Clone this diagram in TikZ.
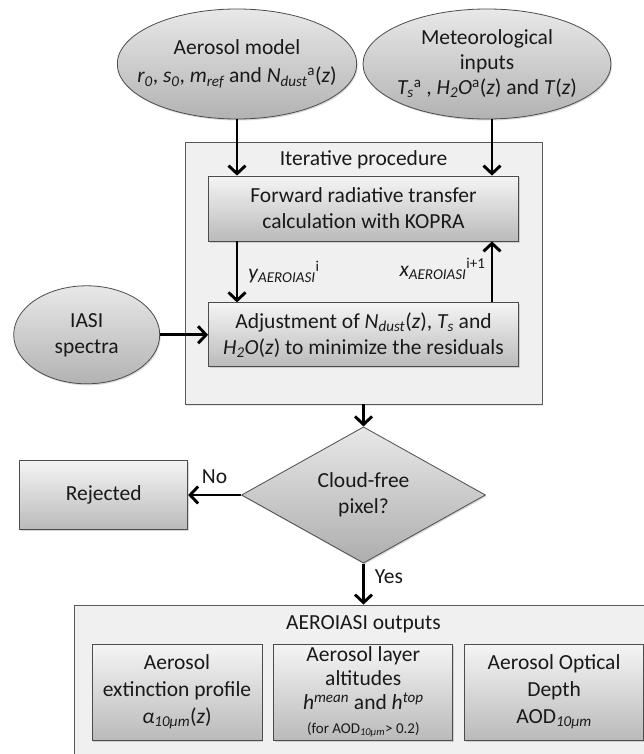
\documentclass[tikz,border=0pt]{standalone}
\usepackage{fontspec}
\setmainfont{Carlito}
\usetikzlibrary{shapes.geometric,arrows.meta,positioning,shadows}

\begin{document}
\begin{tikzpicture}[x=1pt, y=-1pt,
    font=\fontsize{21.5}{26}\selectfont, text=black!90,
    inputs/.style={ellipse, draw=black!70, line width=0.8pt, top color=black!9, bottom color=black!30,
        inner xsep=-15pt, inner ysep=-2pt, align=center,
        drop shadow={shadow xshift=1pt, shadow yshift=-1.5pt, opacity=0.3}},
    stepbox/.style={rectangle, draw=black!70, line width=0.8pt, top color=black!4, bottom color=black!27,
        inner sep=0pt, align=center,
        drop shadow={shadow xshift=1pt, shadow yshift=-1.5pt, opacity=0.3}},
    frame/.style={rectangle, draw=black!65, line width=0.8pt, fill=black!6, inner sep=0pt,
        drop shadow={shadow xshift=1pt, shadow yshift=-1.5pt, opacity=0.2}},
    decision/.style={diamond, draw=black!70, line width=0.8pt, top color=black!9, bottom color=black!32,
        inner sep=0pt, align=center,
        drop shadow={shadow xshift=1pt, shadow yshift=-1.5pt, opacity=0.3}},
    flow/.style={line width=2.9pt, -{Straight Barb[length=8pt, width=17pt]}},
    lbl/.style={inner sep=0pt}]

    \path[use as bounding box, fill=white] (0,0) rectangle (644,754);
    \clip (0,0) rectangle (644,754);

    \node[inputs, minimum width=238pt, minimum height=110pt, font=\fontsize{21.5}{28}\selectfont] (aermodel) at (237,64)
        {Aerosol model\\\textit{r\textsubscript{0}}, \textit{s\textsubscript{0}}, \textit{m\textsubscript{ref}} and \textit{N\textsubscript{dust}}\textsuperscript{a}(\textit{z})};
    \node[inputs, minimum width=248pt, minimum height=110pt, font=\fontsize{21.5}{25}\selectfont] (meteo) at (487,64)
        {Meteorological\\inputs\\\textit{T\textsubscript{s}}\textsuperscript{a} , \textit{H\textsubscript{2}O}\textsuperscript{a}(\textit{z}) and \textit{T}(\textit{z})};

    \node[frame, minimum width=357pt, minimum height=262pt] (iter) at (363.5,273) {};
    \node[lbl] (itertitle) at (363.5,160) {Iterative procedure};
    \node[stepbox, minimum width=310pt, minimum height=65pt] (forward) at (363.5,208.5)
        {Forward radiative transfer\\calculation with KOPRA};
    \node[stepbox, minimum width=310pt, minimum height=64pt, below=61pt of forward] (adjust)
        {Adjustment of \textit{N\textsubscript{dust}}(\textit{z}), \textit{T\textsubscript{s}} and\\\textit{H\textsubscript{2}O}(\textit{z}) to minimize the residuals};
    \node[inputs, minimum width=146pt, minimum height=98pt, left=48pt of adjust] (iasi) {IASI\\spectra};

    \node[decision, minimum width=244pt, minimum height=96pt] (cloud) at (363.5,495) {Cloud-free\\pixel?};
    \node[stepbox, minimum width=168pt, minimum height=69pt, left=53pt of cloud] (reject) {Rejected};

    \node[frame, minimum width=579pt, minimum height=155pt] (outputs) at (363.5,682.5) {};
    \node[lbl] (outtitle) at (363.5,624) {AEROIASI outputs};
    \node[stepbox, minimum width=170pt, minimum height=96pt, font=\fontsize{21.5}{27}\selectfont] (extinct) at (177,692)
        {Aerosol\\extinction profile\\\textit{α\textsubscript{10µm}}(\textit{z})};
    \node[stepbox, minimum width=179pt, minimum height=96pt, right=11pt of extinct, font=\fontsize{21.5}{24}\selectfont] (altitude)
        {Aerosol layer\\altitudes\\\textit{h}\textsuperscript{\textit{mean}} and \textit{h}\textsuperscript{\textit{top}}\\{\fontsize{15}{18}\selectfont (for AOD\textsubscript{\textit{10µm}}> 0.2)}};
    \node[stepbox, minimum width=179pt, minimum height=96pt, right=11pt of altitude, font=\fontsize{21.5}{27}\selectfont] (depth)
        {Aerosol Optical\\Depth\\AOD\textsubscript{\textit{10µm}}};

    \draw[flow] (aermodel) -- (aermodel |- forward.north);
    \draw[flow] ([xshift=5pt]meteo.south) -- ([xshift=5pt]meteo.south |- forward.north);
    \draw[flow] (aermodel |- forward.south) -- (aermodel |- adjust.north)
        node[midway, right=10pt, lbl] {\textit{y\textsubscript{AEROIASI}}\textsuperscript{i}};
    \draw[flow] ([xshift=5pt]meteo.south |- adjust.north) -- ([xshift=5pt]meteo.south |- forward.south)
        node[midway, left=5pt, yshift=3pt, lbl] {\textit{x\textsubscript{AEROIASI}}\textsuperscript{i+1}};
    \draw[flow] (iasi) -- (adjust);
    \draw[flow] (iter) -- (cloud);
    \draw[flow] (cloud) -- (reject) node[midway, above=10pt, lbl] {No};
    \draw[flow] (cloud) -- (outputs) node[pos=0.33, right=10pt, lbl] {Yes};
\end{tikzpicture}
\end{document}
